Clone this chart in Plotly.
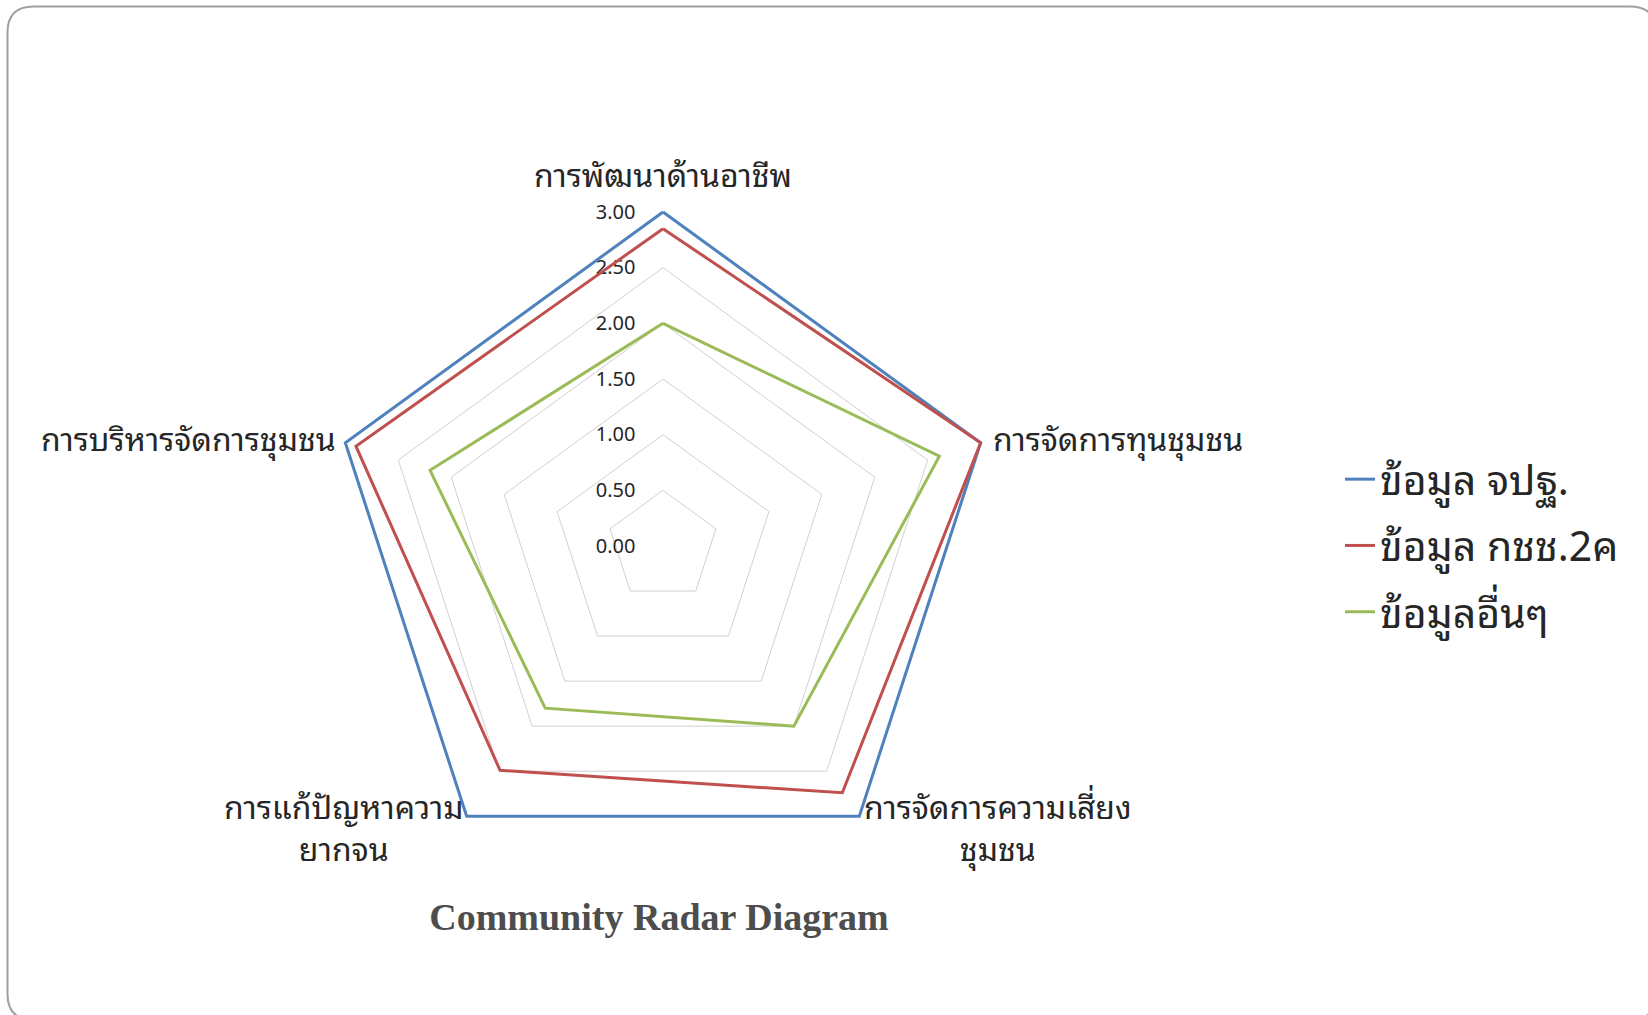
import math
import plotly.graph_objects as go

categories = ["การพัฒนาด้านอาชีพ", "การจัดการทุนชุมชน", "การจัดการความเสี่ยง<br>ชุมชน",
              "การแก้ปัญหาความ<br>ยากจน", "การบริหารจัดการชุมชน"]
series_names = ["ข้อมูล จปฐ.", "ข้อมูล กชช.2ค", "ข้อมูลอื่นๆ"]
values_jpt = [3.00, 3.00, 3.00, 3.00, 3.00]
values_kchch = [2.85, 3.00, 2.74, 2.49, 2.90]
values_other = [2.00, 2.61, 2.00, 1.80, 2.20]
radial_ticks = [0, 0.5, 1.0, 1.5, 2.0, 2.5, 3.0]
title_text = "Community Radar Diagram"

colors = ["#4F81BD", "#C0504D", "#9BBB59"]
thai_font = ("Tahoma, Leelawadee UI, Noto Sans Thai Looped, Loma, Garuda, "
             "Noto Sans Thai, Noto Sans, DejaVu Sans, sans-serif")

W, H = 1648, 1015
cx, cy, R3 = 663, 546, 334          # R3 = pixel radius of value 3.00
r_max = 3.04                         # small headroom so the outer line is not clipped
Rd = R3 * r_max / 3.0

fig = go.Figure()
for i, (name, vals) in enumerate(zip(series_names, [values_jpt, values_kchch, values_other])):
    fig.add_trace(go.Scatterpolar(
        r=vals + [vals[0]],
        theta=categories + [categories[0]],
        mode="lines",
        name=name,
        legendgroup=f"g{i}",
        line=dict(color=colors[i], width=3),
        cliponaxis=False,
        hoverinfo="skip",
    ))

fig.update_layout(
    width=W, height=H,
    margin=dict(l=0, r=0, t=0, b=0),
    paper_bgcolor="white",
    plot_bgcolor="white",
    showlegend=True,
    polar=dict(
        domain=dict(x=[(cx - Rd) / W, (cx + Rd) / W], y=[(H - cy - Rd) / H, (H - cy + Rd) / H]),
        gridshape="linear",
        bgcolor="white",
        radialaxis=dict(
            range=[0, r_max], tickvals=radial_ticks, tickformat=".2f",
            showline=False, ticks="outside", ticklen=20, tickcolor="rgba(0,0,0,0)",
            gridcolor="#D0D0D0", gridwidth=1.3,
            tickfont=dict(family=thai_font, size=20, color="#262626"),
            side="counterclockwise", angle=90, tickangle=90,
            layer="below traces",
        ),
        angularaxis=dict(
            direction="clockwise", rotation=90,
            showgrid=False, showline=False,
            ticks="", showticklabels=False,
            layer="below traces",
        ),
    ),
    legend=dict(
        x=1340 / W, y=1 - 446 / H, xanchor="left", yanchor="top",
        font=dict(family=thai_font, size=41, color="#262626"),
        traceorder="grouped", tracegroupgap=10,
        bgcolor="rgba(0,0,0,0)",
    ),
    title=dict(
        text=title_text,
        x=659 / W, y=1 - 917 / H, xanchor="center", yanchor="middle",
        font=dict(family="Liberation Serif, serif", size=38, color="#4D4D4D", weight="bold"),
    ),
)

# category labels placed around the polygon (offset outward from each vertex)
label_specs = [
    # (dx_from_vertex, dy_from_vertex, xanchor)
    (0, -40, "center"),
    (10, -6, "left"),
    (139, 9, "center"),
    (-123, 9, "center"),
    (-7, -6, "right"),
]
n = len(categories)
for k, cat in enumerate(categories):
    ang = math.radians(90 - 360 * k / n)
    vx = cx + R3 * math.cos(ang)
    vy = cy - R3 * math.sin(ang)
    dx, dy, xa = label_specs[k]
    fig.add_annotation(
        x=(vx + dx) / W, y=1 - (vy + dy) / H, xref="paper", yref="paper",
        text=cat, showarrow=False, xanchor=xa, yanchor="middle",
        align="center",
        font=dict(family=thai_font, size=32, color="#262626"),
    )

# rounded chart-area border
x0, y0 = 7.5, 6.5
x1, y1 = 1656, 1020
rr = 26
def px(x):
    return x / W
def py(y):
    return 1 - y / H
path = (f"M {px(x0)},{py(y0 + rr)} Q {px(x0)},{py(y0)} {px(x0 + rr)},{py(y0)} "
        f"L {px(x1 - rr)},{py(y0)} Q {px(x1)},{py(y0)} {px(x1)},{py(y0 + rr)} "
        f"L {px(x1)},{py(y1 - rr)} Q {px(x1)},{py(y1)} {px(x1 - rr)},{py(y1)} "
        f"L {px(x0 + rr)},{py(y1)} Q {px(x0)},{py(y1)} {px(x0)},{py(y1 - rr)} Z")
fig.add_shape(type="path", path=path, xref="paper", yref="paper",
              line=dict(color="#A0A0A0", width=2), layer="below")

fig.write_html("out.html", config={"displayModeBar": False},
               post_script="document.body.style.margin='0';document.body.style.overflow='hidden';")
